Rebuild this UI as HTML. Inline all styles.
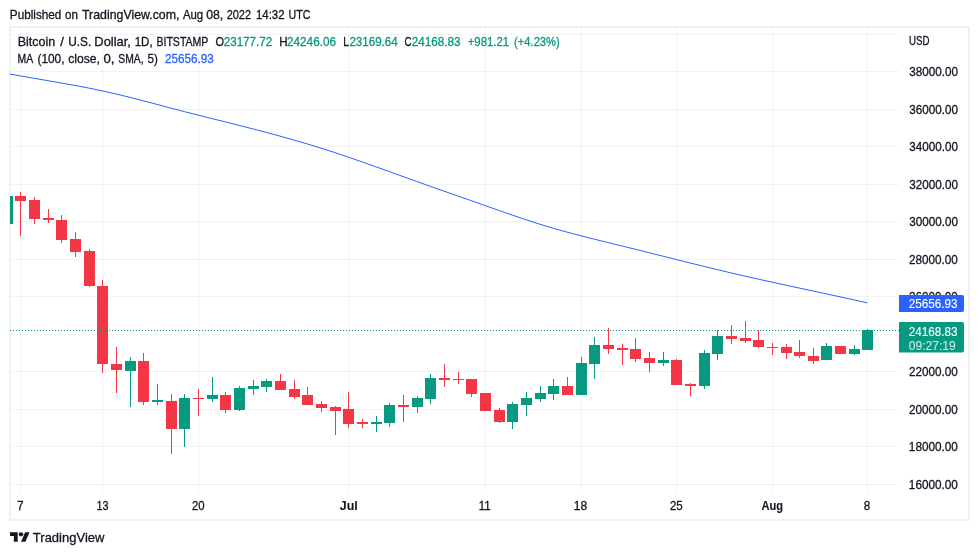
<!DOCTYPE html><html><head><meta charset="utf-8"><title>BTCUSD chart</title><style>html,body{margin:0;padding:0;background:#fff}svg{display:block}text{font-family:'Liberation Sans', sans-serif;white-space:pre}</style></head><body>
<svg width="979" height="555" viewBox="0 0 979 555">
<rect width="979" height="555" fill="#fff"/>
<g fill="rgba(40,50,45,0.06)" shape-rendering="crispEdges">
<rect x="10" y="34" width="889" height="1"/>
<rect x="10" y="71" width="889" height="1"/>
<rect x="10" y="109" width="889" height="1"/>
<rect x="10" y="146" width="889" height="1"/>
<rect x="10" y="184" width="889" height="1"/>
<rect x="10" y="221" width="889" height="1"/>
<rect x="10" y="259" width="889" height="1"/>
<rect x="10" y="296" width="889" height="1"/>
<rect x="10" y="334" width="889" height="1"/>
<rect x="10" y="371" width="889" height="1"/>
<rect x="10" y="409" width="889" height="1"/>
<rect x="10" y="446" width="889" height="1"/>
<rect x="10" y="484" width="889" height="1"/>
<rect x="20" y="27" width="1" height="465"/>
<rect x="102" y="27" width="1" height="465"/>
<rect x="198" y="27" width="1" height="465"/>
<rect x="348" y="27" width="1" height="465"/>
<rect x="485" y="27" width="1" height="465"/>
<rect x="581" y="27" width="1" height="465"/>
<rect x="676" y="27" width="1" height="465"/>
<rect x="772" y="27" width="1" height="465"/>
<rect x="867" y="27" width="1" height="465"/>
</g>
<rect x="10" y="27" width="959" height="493" fill="none" stroke="#e0e3eb" stroke-width="1"/>
<clipPath id="plot"><rect x="10" y="27" width="889" height="465"/></clipPath>
<polyline points="6.8,73.44 20.5,75.94 34.1,78.33 47.8,80.67 61.4,83.04 75.1,85.49 88.8,88.09 102.4,90.90 116.1,93.98 129.7,97.29 143.4,100.80 157.1,104.44 170.7,108.08 184.4,111.61 198.1,115.08 211.7,118.50 225.4,121.92 239.0,125.36 252.7,128.85 266.4,132.42 280.0,136.11 293.7,139.94 307.3,143.94 321.0,148.15 334.7,152.56 348.3,157.14 362.0,161.86 375.6,166.69 389.3,171.58 403.0,176.51 416.6,181.43 430.3,186.33 444.0,191.16 457.6,195.95 471.3,200.72 484.9,205.51 498.6,210.33 512.3,215.10 525.9,219.73 539.6,224.15 553.2,228.26 566.9,232.09 580.6,235.69 594.2,239.15 607.9,242.52 621.5,245.86 635.2,249.24 648.9,252.65 662.5,256.07 676.2,259.50 689.8,262.90 703.5,266.27 717.2,269.59 730.8,272.85 744.5,276.02 758.2,279.11 771.8,282.12 785.5,285.09 799.1,288.03 812.8,290.95 826.5,293.88 840.1,296.83 853.8,299.83 867.4,302.89" fill="none" stroke="#2962ff" stroke-width="1" stroke-linejoin="round" clip-path="url(#plot)"/>
<g shape-rendering="crispEdges" clip-path="url(#plot)">
<rect x="2" y="196" width="11" height="28" fill="#089981"/>
<rect x="20" y="192" width="1" height="44" fill="#f23645"/>
<rect x="15" y="196" width="11" height="5" fill="#f23645"/>
<rect x="34" y="197" width="1" height="27" fill="#f23645"/>
<rect x="29" y="200" width="11" height="19" fill="#f23645"/>
<rect x="48" y="209" width="1" height="14" fill="#f23645"/>
<rect x="43" y="218" width="11" height="2" fill="#f23645"/>
<rect x="61" y="215" width="1" height="28" fill="#f23645"/>
<rect x="56" y="220" width="11" height="20" fill="#f23645"/>
<rect x="75" y="232" width="1" height="25" fill="#f23645"/>
<rect x="70" y="239" width="11" height="13" fill="#f23645"/>
<rect x="89" y="249" width="1" height="38" fill="#f23645"/>
<rect x="84" y="251" width="11" height="35" fill="#f23645"/>
<rect x="102" y="280" width="1" height="93" fill="#f23645"/>
<rect x="97" y="286" width="11" height="78" fill="#f23645"/>
<rect x="116" y="347" width="1" height="46" fill="#f23645"/>
<rect x="111" y="364" width="11" height="6" fill="#f23645"/>
<rect x="130" y="357" width="1" height="50" fill="#089981"/>
<rect x="125" y="361" width="11" height="10" fill="#089981"/>
<rect x="143" y="353" width="1" height="52" fill="#f23645"/>
<rect x="138" y="361" width="11" height="41" fill="#f23645"/>
<rect x="157" y="384" width="1" height="21" fill="#089981"/>
<rect x="152" y="400" width="11" height="2" fill="#089981"/>
<rect x="171" y="394" width="1" height="60" fill="#f23645"/>
<rect x="166" y="401" width="11" height="28" fill="#f23645"/>
<rect x="184" y="394" width="1" height="53" fill="#089981"/>
<rect x="179" y="398" width="11" height="31" fill="#089981"/>
<rect x="198" y="389" width="1" height="27" fill="#f23645"/>
<rect x="193" y="398" width="11" height="1" fill="#f23645"/>
<rect x="212" y="377" width="1" height="25" fill="#089981"/>
<rect x="207" y="395" width="11" height="4" fill="#089981"/>
<rect x="225" y="392" width="1" height="21" fill="#f23645"/>
<rect x="220" y="395" width="11" height="15" fill="#f23645"/>
<rect x="239" y="386" width="1" height="25" fill="#089981"/>
<rect x="234" y="388" width="11" height="22" fill="#089981"/>
<rect x="253" y="380" width="1" height="15" fill="#089981"/>
<rect x="248" y="386" width="11" height="3" fill="#089981"/>
<rect x="266" y="379" width="1" height="13" fill="#089981"/>
<rect x="261" y="381" width="11" height="6" fill="#089981"/>
<rect x="280" y="374" width="1" height="16" fill="#f23645"/>
<rect x="275" y="381" width="11" height="9" fill="#f23645"/>
<rect x="294" y="380" width="1" height="19" fill="#f23645"/>
<rect x="289" y="389" width="11" height="8" fill="#f23645"/>
<rect x="307" y="387" width="1" height="18" fill="#f23645"/>
<rect x="302" y="395" width="11" height="10" fill="#f23645"/>
<rect x="321" y="401" width="1" height="11" fill="#f23645"/>
<rect x="316" y="404" width="11" height="4" fill="#f23645"/>
<rect x="335" y="406" width="1" height="29" fill="#f23645"/>
<rect x="330" y="407" width="11" height="4" fill="#f23645"/>
<rect x="348" y="392" width="1" height="36" fill="#f23645"/>
<rect x="343" y="409" width="11" height="15" fill="#f23645"/>
<rect x="362" y="419" width="1" height="9" fill="#f23645"/>
<rect x="357" y="422" width="11" height="2" fill="#f23645"/>
<rect x="376" y="416" width="1" height="16" fill="#089981"/>
<rect x="371" y="422" width="11" height="2" fill="#089981"/>
<rect x="389" y="403" width="1" height="24" fill="#089981"/>
<rect x="384" y="405" width="11" height="18" fill="#089981"/>
<rect x="403" y="395" width="1" height="27" fill="#f23645"/>
<rect x="398" y="405" width="11" height="2" fill="#f23645"/>
<rect x="417" y="396" width="1" height="17" fill="#089981"/>
<rect x="412" y="398" width="11" height="9" fill="#089981"/>
<rect x="430" y="374" width="1" height="30" fill="#089981"/>
<rect x="425" y="378" width="11" height="21" fill="#089981"/>
<rect x="444" y="364" width="1" height="23" fill="#f23645"/>
<rect x="439" y="378" width="11" height="2" fill="#f23645"/>
<rect x="458" y="372" width="1" height="12" fill="#f23645"/>
<rect x="453" y="379" width="11" height="1" fill="#f23645"/>
<rect x="471" y="379" width="1" height="18" fill="#f23645"/>
<rect x="466" y="379" width="11" height="15" fill="#f23645"/>
<rect x="480" y="393" width="11" height="18" fill="#f23645"/>
<rect x="499" y="408" width="1" height="15" fill="#f23645"/>
<rect x="494" y="410" width="11" height="12" fill="#f23645"/>
<rect x="512" y="402" width="1" height="27" fill="#089981"/>
<rect x="507" y="404" width="11" height="18" fill="#089981"/>
<rect x="526" y="392" width="1" height="24" fill="#089981"/>
<rect x="521" y="398" width="11" height="7" fill="#089981"/>
<rect x="540" y="386" width="1" height="16" fill="#089981"/>
<rect x="535" y="393" width="11" height="6" fill="#089981"/>
<rect x="553" y="379" width="1" height="21" fill="#089981"/>
<rect x="548" y="386" width="11" height="8" fill="#089981"/>
<rect x="567" y="377" width="1" height="18" fill="#f23645"/>
<rect x="562" y="386" width="11" height="9" fill="#f23645"/>
<rect x="581" y="357" width="1" height="38" fill="#089981"/>
<rect x="576" y="363" width="11" height="32" fill="#089981"/>
<rect x="594" y="337" width="1" height="42" fill="#089981"/>
<rect x="589" y="345" width="11" height="19" fill="#089981"/>
<rect x="608" y="328" width="1" height="26" fill="#f23645"/>
<rect x="603" y="345" width="11" height="4" fill="#f23645"/>
<rect x="622" y="344" width="1" height="21" fill="#f23645"/>
<rect x="617" y="348" width="11" height="2" fill="#f23645"/>
<rect x="635" y="338" width="1" height="24" fill="#f23645"/>
<rect x="630" y="349" width="11" height="10" fill="#f23645"/>
<rect x="649" y="352" width="1" height="20" fill="#f23645"/>
<rect x="644" y="358" width="11" height="5" fill="#f23645"/>
<rect x="663" y="352" width="1" height="14" fill="#089981"/>
<rect x="658" y="360" width="11" height="3" fill="#089981"/>
<rect x="676" y="359" width="1" height="26" fill="#f23645"/>
<rect x="671" y="360" width="11" height="25" fill="#f23645"/>
<rect x="690" y="383" width="1" height="13" fill="#f23645"/>
<rect x="685" y="384" width="11" height="2" fill="#f23645"/>
<rect x="704" y="350" width="1" height="39" fill="#089981"/>
<rect x="699" y="353" width="11" height="33" fill="#089981"/>
<rect x="717" y="330" width="1" height="30" fill="#089981"/>
<rect x="712" y="336" width="11" height="18" fill="#089981"/>
<rect x="731" y="325" width="1" height="19" fill="#f23645"/>
<rect x="726" y="336" width="11" height="3" fill="#f23645"/>
<rect x="745" y="321" width="1" height="22" fill="#f23645"/>
<rect x="740" y="338" width="11" height="3" fill="#f23645"/>
<rect x="758" y="330" width="1" height="18" fill="#f23645"/>
<rect x="753" y="340" width="11" height="7" fill="#f23645"/>
<rect x="772" y="343" width="1" height="12" fill="#f23645"/>
<rect x="767" y="347" width="11" height="1" fill="#f23645"/>
<rect x="786" y="344" width="1" height="15" fill="#f23645"/>
<rect x="781" y="347" width="11" height="6" fill="#f23645"/>
<rect x="799" y="340" width="1" height="18" fill="#f23645"/>
<rect x="794" y="352" width="11" height="4" fill="#f23645"/>
<rect x="813" y="348" width="1" height="16" fill="#f23645"/>
<rect x="808" y="356" width="11" height="5" fill="#f23645"/>
<rect x="826" y="343" width="1" height="17" fill="#089981"/>
<rect x="821" y="346" width="11" height="14" fill="#089981"/>
<rect x="835" y="346" width="11" height="8" fill="#f23645"/>
<rect x="854" y="345" width="1" height="10" fill="#089981"/>
<rect x="849" y="349" width="11" height="5" fill="#089981"/>
<rect x="867" y="329" width="1" height="21" fill="#089981"/>
<rect x="862" y="330" width="11" height="20" fill="#089981"/>
</g>
<line x1="10" y1="330.5" x2="899" y2="330.5" stroke="#089981" stroke-width="1" stroke-dasharray="1 2" shape-rendering="crispEdges"/>
<text transform="translate(9.82,18.7) scale(0.9769,1)" font-size="12" fill="#131722" stroke="#131722" stroke-width="0.3">Published</text>
<text transform="translate(65.12,18.7) scale(0.9649,1)" font-size="12" fill="#131722" stroke="#131722" stroke-width="0.3">on</text>
<text transform="translate(82.04,18.7) scale(1.0292,1)" font-size="12" fill="#131722" stroke="#131722" stroke-width="0.3">TradingView.com,</text>
<text transform="translate(182.9,18.7) scale(0.9503,1)" font-size="12" fill="#131722" stroke="#131722" stroke-width="0.3">Aug</text>
<text transform="translate(206.19,18.7) scale(1.0248,1)" font-size="12" fill="#131722" stroke="#131722" stroke-width="0.3">08,</text>
<text transform="translate(226.63,18.7) scale(0.9137,1)" font-size="12" fill="#131722" stroke="#131722" stroke-width="0.3">2022</text>
<text transform="translate(255.96,18.7) scale(0.9544,1)" font-size="12" fill="#131722" stroke="#131722" stroke-width="0.3">14:32</text>
<text transform="translate(288.62,18.7) scale(0.8903,1)" font-size="12" fill="#131722" stroke="#131722" stroke-width="0.3">UTC</text>
<text transform="translate(17.66,46.0) scale(1.0423,1)" font-size="12" fill="#131722" stroke="#131722" stroke-width="0.3">Bitcoin</text>
<text transform="translate(60.26,46.0) scale(1.1,1)" font-size="12" fill="#131722" stroke="#131722" stroke-width="0.3">/</text>
<text transform="translate(68.24,46.0) scale(0.9871,1)" font-size="12" fill="#131722" stroke="#131722" stroke-width="0.3">U.S.</text>
<text transform="translate(94.32,46.0) scale(1.0781,1)" font-size="12" fill="#131722" stroke="#131722" stroke-width="0.3">Dollar,</text>
<text transform="translate(134.66,46.0) scale(0.9612,1)" font-size="12" fill="#131722" stroke="#131722" stroke-width="0.3">1D,</text>
<text transform="translate(156.42,46.0) scale(0.88,1)" font-size="12" fill="#131722" stroke="#131722" stroke-width="0.3">BITSTAMP</text>
<text transform="translate(215.43,46.0) scale(0.9108,1)" font-size="12" fill="#131722" stroke="#131722" stroke-width="0.3">O</text>
<text transform="translate(279.14,46.0) scale(0.963,1)" font-size="12" fill="#131722" stroke="#131722" stroke-width="0.3">H</text>
<text transform="translate(343.34,46.0) scale(0.8571,1)" font-size="12" fill="#131722" stroke="#131722" stroke-width="0.3">L</text>
<text transform="translate(404.39,46.0) scale(0.8133,1)" font-size="12" fill="#131722" stroke="#131722" stroke-width="0.3">C</text>
<text transform="translate(223.69,46.0) scale(0.9698,1)" font-size="12" fill="#089981" stroke="#089981" stroke-width="0.3">23177.72</text>
<text transform="translate(286.99,46.0) scale(0.9801,1)" font-size="12" fill="#089981" stroke="#089981" stroke-width="0.3">24246.06</text>
<text transform="translate(349.4,46.0) scale(0.9649,1)" font-size="12" fill="#089981" stroke="#089981" stroke-width="0.3">23169.64</text>
<text transform="translate(411.69,46.0) scale(0.978,1)" font-size="12" fill="#089981" stroke="#089981" stroke-width="0.3">24168.83</text>
<text transform="translate(467.71,46.0) scale(0.9506,1)" font-size="12" fill="#089981" stroke="#089981" stroke-width="0.3">+981.21</text>
<text transform="translate(514.1,46.0) scale(0.9305,1)" font-size="12" fill="#089981" stroke="#089981" stroke-width="0.3">(+4.23%)</text>
<text transform="translate(17.43,62.9) scale(0.8706,1)" font-size="12" fill="#131722" stroke="#131722" stroke-width="0.3">MA</text>
<text transform="translate(37.46,62.9) scale(0.9882,1)" font-size="12" fill="#131722" stroke="#131722" stroke-width="0.3">(100,</text>
<text transform="translate(68.19,62.9) scale(1.0118,1)" font-size="12" fill="#131722" stroke="#131722" stroke-width="0.3">close,</text>
<text transform="translate(103.43,62.9) scale(1.1,1)" font-size="12" fill="#131722" stroke="#131722" stroke-width="0.3">0,</text>
<text transform="translate(118.26,62.9) scale(0.8615,1)" font-size="12" fill="#131722" stroke="#131722" stroke-width="0.3">SMA,</text>
<text transform="translate(147.52,62.9) scale(0.9684,1)" font-size="12" fill="#131722" stroke="#131722" stroke-width="0.3">5)</text>
<text transform="translate(164.99,62.9) scale(0.9739,1)" font-size="12" fill="#2962ff" stroke="#2962ff" stroke-width="0.3">25656.93</text>
<text transform="translate(908.99,44.6) scale(0.8084,1)" font-size="12" fill="#131722" stroke="#131722" stroke-width="0.3">USD</text>
<text transform="translate(909.21,75.8) scale(0.973,1)" font-size="12" fill="#131722" stroke="#131722" stroke-width="0.3">38000.00</text>
<text transform="translate(909.21,113.8) scale(0.973,1)" font-size="12" fill="#131722" stroke="#131722" stroke-width="0.3">36000.00</text>
<text transform="translate(909.21,150.8) scale(0.973,1)" font-size="12" fill="#131722" stroke="#131722" stroke-width="0.3">34000.00</text>
<text transform="translate(909.21,188.8) scale(0.973,1)" font-size="12" fill="#131722" stroke="#131722" stroke-width="0.3">32000.00</text>
<text transform="translate(909.21,225.8) scale(0.973,1)" font-size="12" fill="#131722" stroke="#131722" stroke-width="0.3">30000.00</text>
<text transform="translate(909.09,263.8) scale(0.9755,1)" font-size="12" fill="#131722" stroke="#131722" stroke-width="0.3">28000.00</text>
<text transform="translate(909.09,300.8) scale(0.9755,1)" font-size="12" fill="#131722" stroke="#131722" stroke-width="0.3">26000.00</text>
<text transform="translate(909.09,375.8) scale(0.9755,1)" font-size="12" fill="#131722" stroke="#131722" stroke-width="0.3">22000.00</text>
<text transform="translate(909.09,413.8) scale(0.9755,1)" font-size="12" fill="#131722" stroke="#131722" stroke-width="0.3">20000.00</text>
<text transform="translate(908.84,450.8) scale(0.9805,1)" font-size="12" fill="#131722" stroke="#131722" stroke-width="0.3">18000.00</text>
<text transform="translate(908.84,488.8) scale(0.9805,1)" font-size="12" fill="#131722" stroke="#131722" stroke-width="0.3">16000.00</text>
<text transform="translate(17.09,509.9) scale(0.9818,1)" font-size="12" fill="#131722" stroke="#131722" stroke-width="0.3">7</text>
<text transform="translate(96.61,509.9) scale(0.9,1)" font-size="12" fill="#131722" stroke="#131722" stroke-width="0.3">13</text>
<text transform="translate(191.91,509.9) scale(0.9469,1)" font-size="12" fill="#131722" stroke="#131722" stroke-width="0.3">20</text>
<text transform="translate(339.74,509.9) scale(1.04,1)" font-size="12" font-weight="700" fill="#131722" stroke="#131722" stroke-width="0.1">Jul</text>
<text transform="translate(478.66,509.9) scale(0.9545,1)" font-size="12" fill="#131722" stroke="#131722" stroke-width="0.3">11</text>
<text transform="translate(573.72,509.9) scale(1.0083,1)" font-size="12" fill="#131722" stroke="#131722" stroke-width="0.3">18</text>
<text transform="translate(669.9,509.9) scale(0.9633,1)" font-size="12" fill="#131722" stroke="#131722" stroke-width="0.3">25</text>
<text transform="translate(761.45,509.9) scale(0.9266,1)" font-size="12" font-weight="700" fill="#131722" stroke="#131722" stroke-width="0.1">Aug</text>
<text transform="translate(863.81,509.9) scale(0.9778,1)" font-size="12" fill="#131722" stroke="#131722" stroke-width="0.3">8</text>
<text transform="translate(32.85,541.8) scale(1.0004,1)" font-size="13" fill="#131722" stroke="#131722" stroke-width="0.3">TradingView</text>
<path d="M899 295H962a2 2 0 0 1 2 2V310a2 2 0 0 1 -2 2H899z" fill="#2962ff"/>
<path d="M899 322H962a2 2 0 0 1 2 2V350.5a2 2 0 0 1 -2 2H899z" fill="#089981"/>
<text transform="translate(908.69,308.0) scale(0.976,1)" font-size="12" fill="#ffffff" stroke="#ffffff" stroke-width="0.1">25656.93</text>
<text transform="translate(908.69,335.7) scale(0.976,1)" font-size="12" fill="#ffffff" stroke="#ffffff" stroke-width="0.1">24168.83</text>
<text transform="translate(908.8,349.9) scale(1.006,1)" font-size="12" fill="#ffffff" stroke="#ffffff" stroke-width="0.1" fill-opacity="0.75" stroke-opacity="0.75">09:27:19</text>
<g transform="translate(10,530.1) scale(0.55,0.53)" fill="#131722"><path d="M14 22H7V11H0V4h14v18zM28 22h-8l7.5-18h8L28 22z"/><circle cx="20" cy="8" r="4"/></g>
</svg></body></html>
